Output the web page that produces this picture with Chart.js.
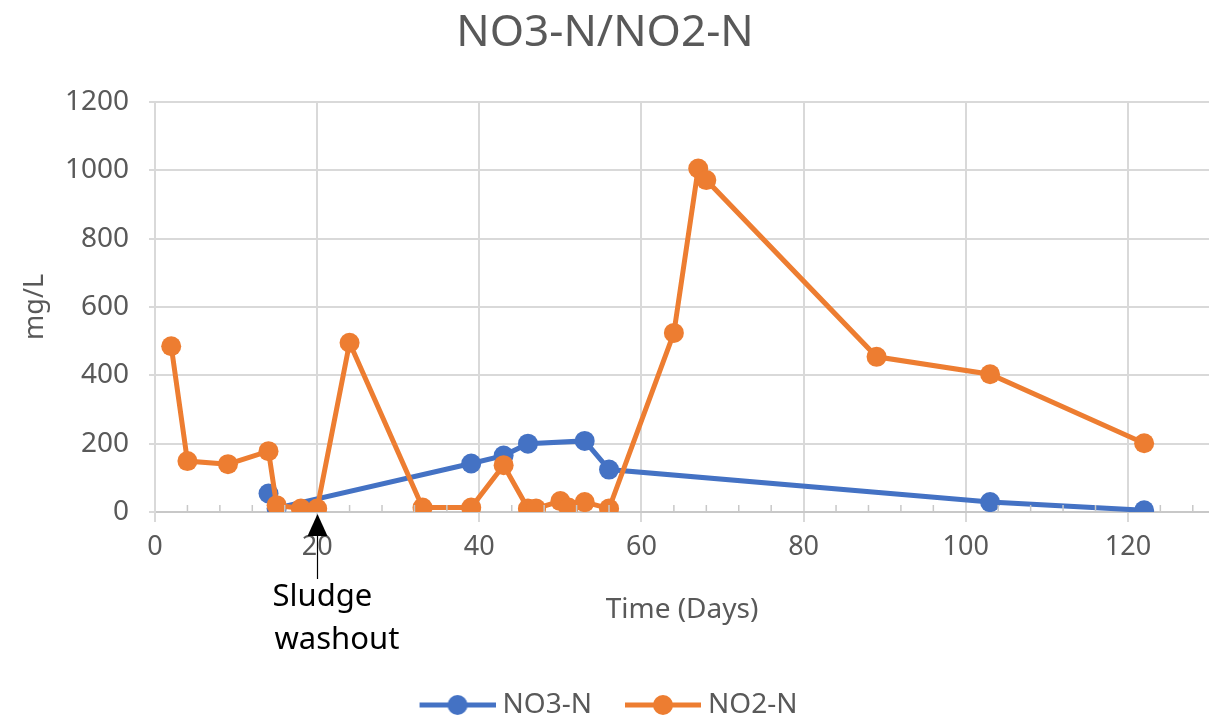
<!DOCTYPE html>
<html>
<head>
<meta charset="utf-8">
<script src="https://cdn.jsdelivr.net/npm/chart.js@4"></script>
<style>
  body { margin: 0; background: #fff; }
  #wrap { width: 1209px; height: 719px; }
</style>
</head>
<body>
<div id="wrap"><canvas id="chem"></canvas></div>
<script>
// days and readings
var no3Days = [14, 15, 39, 43, 46, 53, 56, 103, 122];
var no3Vals = [54, 11, 142, 165, 200, 208, 124, 29, 5];
var no2Days = [2, 4, 9, 14, 15, 18, 20, 24, 33, 39, 43, 46, 47, 50, 51, 53, 56, 64, 67, 68, 89, 103, 122];
var no2Vals = [485, 149, 140, 178, 20, 10, 10, 495, 13, 13, 137, 10, 10, 32, 13, 29, 10, 524, 1005, 971, 454, 403, 201];
var washoutDay = 20;

var blue = '#4472C4';
var orange = '#ED7D31';
var txt = '#595959';
var grid = '#d9d9d9';
var fam = "'Noto Sans', sans-serif";

function pts(xs, ys) {
    return xs.map(function (d, i) { return { x: d, y: ys[i] }; });
}

// line+dot swatch for the legend, nudged right so the text sits closer
function swatch(color) {
    var c = document.createElement('canvas');
    c.width = 90; c.height = 24;
    var g = c.getContext('2d');
    g.strokeStyle = color;
    g.lineWidth = 5;
    g.beginPath(); g.moveTo(14, 12); g.lineTo(90, 12); g.stroke();
    g.fillStyle = color;
    g.beginPath(); g.arc(52, 12, 10, 0, Math.PI * 2); g.fill();
    return c;
}

// minor ticks on the x axis + the sludge washout arrow
var extras = {
    id: 'extras',
    afterDatasetsDraw: function (chart) {
        var ctx = chart.ctx;
        var xs = chart.scales.x;
        var yb = chart.chartArea.bottom;
        ctx.save();
        ctx.strokeStyle = '#c8c8c8';
        ctx.lineWidth = 1.5;
        for (var v = 4; v < 130; v += 4) {
            if (v % 20 === 0) continue;
            var px = xs.getPixelForValue(v);
            ctx.beginPath(); ctx.moveTo(px, yb - 7); ctx.lineTo(px, yb); ctx.stroke();
        }
        var ax = Math.round(xs.getPixelForValue(washoutDay)) + 0.5;
        ctx.fillStyle = '#000';
        ctx.beginPath();
        ctx.moveTo(ax, yb + 2);
        ctx.lineTo(ax - 10, yb + 24);
        ctx.lineTo(ax + 10, yb + 24);
        ctx.closePath(); ctx.fill();
        ctx.strokeStyle = '#000';
        ctx.lineWidth = 1.2;
        ctx.beginPath(); ctx.moveTo(ax, yb + 22); ctx.lineTo(ax, yb + 67); ctx.stroke();
        ctx.font = '31px ' + fam;
        ctx.textAlign = 'left';
        ctx.textBaseline = 'alphabetic';
        ctx.fillText('Sludge', ax - 45, yb + 94);
        ctx.fillText('washout', ax - 43, yb + 137);
        ctx.restore();
    }
};

var ctx = document.getElementById('chem').getContext('2d');
var myChart = new Chart(ctx, {
    type: 'line',
    data: {
        datasets: [{
            label: 'NO3-N',
            data: pts(no3Days, no3Vals),
            borderColor: blue,
            backgroundColor: blue,
            borderWidth: 5,
            pointRadius: 10,
            pointBorderWidth: 0,
            pointHoverRadius: 10,
            order: 2
        }, {
            label: 'NO2-N',
            data: pts(no2Days, no2Vals),
            borderColor: orange,
            backgroundColor: orange,
            borderWidth: 5,
            pointRadius: 10,
            pointBorderWidth: 0,
            pointHoverRadius: 10,
            order: 1
        }]
    },
    options: {
        responsive: true,
        maintainAspectRatio: false,
        animation: false,
        layout: { autoPadding: false, padding: { left: 0, right: -1, top: 0, bottom: -10 } },
        plugins: {
            title: {
                display: true,
                text: 'NO3-N/NO2-N',
                color: txt,
                font: { family: fam, size: 44, weight: 'normal' },
                padding: { top: 7, bottom: 42 }
            },
            legend: {
                position: 'bottom',
                labels: {
                    usePointStyle: true,
                    pointStyleWidth: 76,
                    color: txt,
                    font: { family: fam, size: 28 },
                    padding: 26,
                    generateLabels: function (chart) {
                        return chart.data.datasets.map(function (ds, i) {
                            return {
                                text: ds.label,
                                fillStyle: ds.borderColor,
                                strokeStyle: ds.borderColor,
                                fontColor: txt,
                                lineWidth: 0,
                                pointStyle: swatch(ds.borderColor),
                                hidden: !chart.isDatasetVisible(i),
                                datasetIndex: i
                            };
                        });
                    }
                }
            },
            tooltip: { enabled: false }
        },
        scales: {
            x: {
                type: 'linear',
                min: 0,
                max: 130,
                afterBuildTicks: function (s) {
                    s.ticks = s.ticks.filter(function (t) { return t.value % 20 === 0; });
                },
                afterFit: function (s) {
                    s.height = 153;
                    s.paddingRight = -1;
                },
                ticks: {
                    stepSize: 20,
                    color: txt,
                    padding: 9,
                    font: { family: fam, size: 27 }
                },
                grid: { color: grid, lineWidth: 2, tickLength: 10, tickColor: grid },
                border: { color: '#c8c8c8', width: 2 },
                title: {
                    display: true,
                    text: 'Time (Days)',
                    color: txt,
                    font: { family: fam, size: 28 },
                    padding: { top: 0, bottom: 38 }
                }
            },
            y: {
                min: 0,
                max: 1200,
                afterFit: function (s) { s.width = 155; },
                ticks: {
                    stepSize: 200,
                    color: txt,
                    padding: 20,
                    font: { family: fam, size: 28 },
                    callback: function (v) { return String(v); }
                },
                grid: { color: grid, lineWidth: 2, tickLength: 6, tickColor: grid },
                border: { color: grid, width: 2 },
                title: {
                    display: true,
                    text: 'mg/L',
                    color: txt,
                    font: { family: fam, size: 27 },
                    padding: { top: 19, bottom: 0 }
                }
            }
        }
    },
    plugins: [extras]
});
</script>
</body>
</html>
